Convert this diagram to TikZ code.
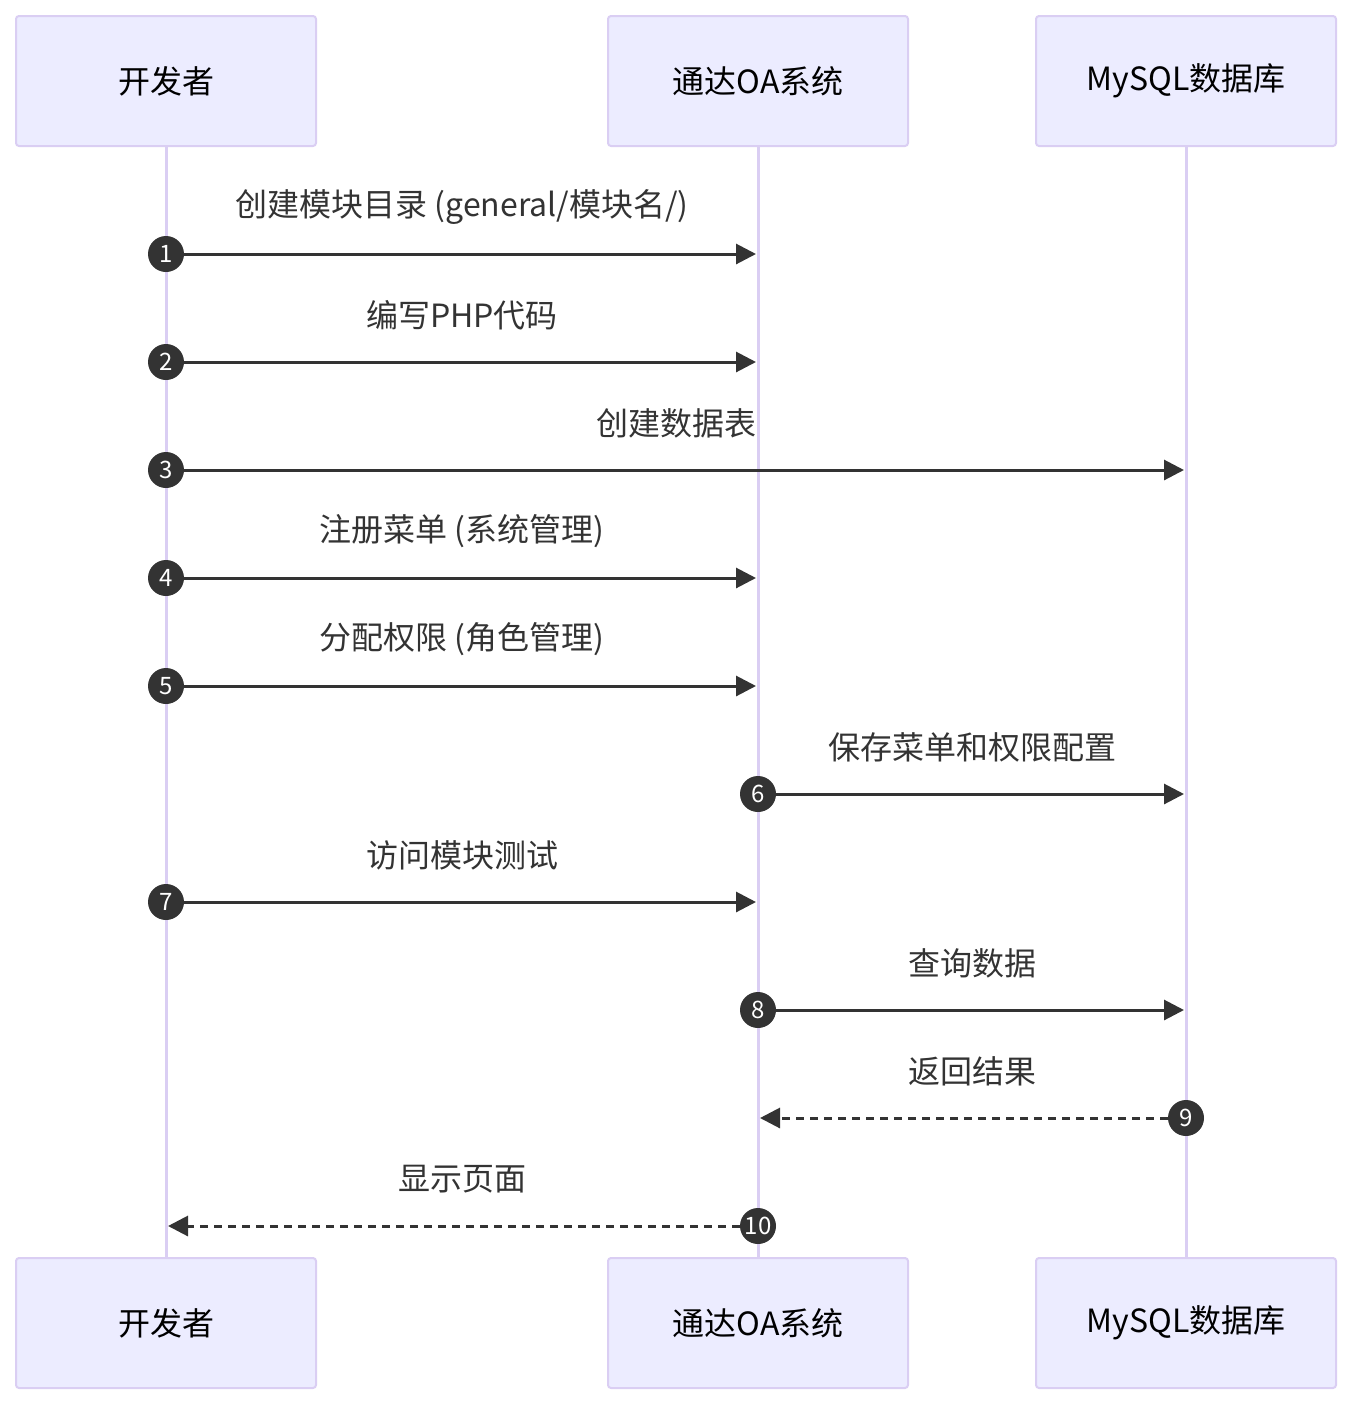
\documentclass[tikz,border=0pt]{standalone}
\usepackage{fontspec}
\setmainfont{Noto Sans CJK SC}
\usetikzlibrary{positioning, arrows.meta, calc}

\definecolor{actfill}{HTML}{ECECFF}
\definecolor{actline}{HTML}{DACEF3}
\definecolor{ink}{HTML}{333333}

\tikzset{
    actor/.style={draw=actline, line width=2pt, fill=actfill, rounded corners=3pt, minimum width=300pt, minimum height=130pt, font=\fontsize{32}{38}\selectfont, text=black},
    life/.style={draw=actline, line width=3pt},
    msg/.style={draw=ink, line width=3pt, -{Triangle[length=20pt, width=20pt]}, shorten >=2pt},
    reply/.style={msg, dash pattern=on 8pt off 6pt},
    num/.style={circle, fill=ink, inner sep=0pt, minimum size=36pt, text=white, font=\fontsize{24}{25}\selectfont},
    lbl/.style={text=ink, font=\fontsize{32}{38}\selectfont}
}

\begin{document}
\begin{tikzpicture}[x=1pt, y=1pt]
    \useasboundingbox (0,0) rectangle (1352,-1406);

    \node (dev) [actor] at (166,-81) {开发者};
    \node (oa) [actor] at (758,-81) {通达OA系统};
    \node (db) [actor] at (1186,-81) {MySQL数据库};
    \node (devB) [actor] at (166,-1323) {开发者};
    \node (oaB) [actor] at (758,-1323) {通达OA系统};
    \node (dbB) [actor] at (1186,-1323) {MySQL数据库};

    \draw [life] (dev.south) -- (devB.north);
    \draw [life] (oa.south) -- (oaB.north);
    \draw [life] (db.south) -- (dbB.north);

    % 1
    \node (n1) [num] at (dev |- 0,-254) {1};
    \coordinate (e1) at (oa |- n1);
    \draw [msg] (n1) -- (e1);
    \node (t1) [lbl] at ($(n1)!.5!(e1)+(0,47)$) {创建模块目录 (general/模块名/)};

    % 2
    \node (n2) [num] at (dev |- 0,-362) {2};
    \coordinate (e2) at (oa |- n2);
    \draw [msg] (n2) -- (e2);
    \node (t2) [lbl] at ($(n2)!.5!(e2)+(0,47)$) {编写PHP代码};

    % 3
    \node (n3) [num] at (dev |- 0,-470) {3};
    \coordinate (e3) at (db |- n3);
    \draw [msg] (n3) -- (e3);
    \node (t3) [lbl] at ($(n3)!.5!(e3)+(0,47)$) {创建数据表};

    % 4
    \node (n4) [num] at (dev |- 0,-578) {4};
    \coordinate (e4) at (oa |- n4);
    \draw [msg] (n4) -- (e4);
    \node (t4) [lbl] at ($(n4)!.5!(e4)+(0,47)$) {注册菜单 (系统管理)};

    % 5
    \node (n5) [num] at (dev |- 0,-686) {5};
    \coordinate (e5) at (oa |- n5);
    \draw [msg] (n5) -- (e5);
    \node (t5) [lbl] at ($(n5)!.5!(e5)+(0,47)$) {分配权限 (角色管理)};

    % 6
    \node (n6) [num] at (oa |- 0,-794) {6};
    \coordinate (e6) at (db |- n6);
    \draw [msg] (n6) -- (e6);
    \node (t6) [lbl] at ($(n6)!.5!(e6)+(0,47)$) {保存菜单和权限配置};

    % 7
    \node (n7) [num] at (dev |- 0,-902) {7};
    \coordinate (e7) at (oa |- n7);
    \draw [msg] (n7) -- (e7);
    \node (t7) [lbl] at ($(n7)!.5!(e7)+(0,47)$) {访问模块测试};

    % 8
    \node (n8) [num] at (oa |- 0,-1010) {8};
    \coordinate (e8) at (db |- n8);
    \draw [msg] (n8) -- (e8);
    \node (t8) [lbl] at ($(n8)!.5!(e8)+(0,47)$) {查询数据};

    % 9
    \node (n9) [num] at (db |- 0,-1118) {9};
    \coordinate (e9) at (oa |- n9);
    \draw [reply] (n9) -- (e9);
    \node (t9) [lbl] at ($(n9)!.5!(e9)+(0,47)$) {返回结果};

    % 10
    \node (n10) [num] at (oa |- 0,-1226) {10};
    \coordinate (e10) at (dev |- n10);
    \draw [reply] (n10) -- (e10);
    \node (t10) [lbl] at ($(n10)!.5!(e10)+(0,47)$) {显示页面};
\end{tikzpicture}
\end{document}
